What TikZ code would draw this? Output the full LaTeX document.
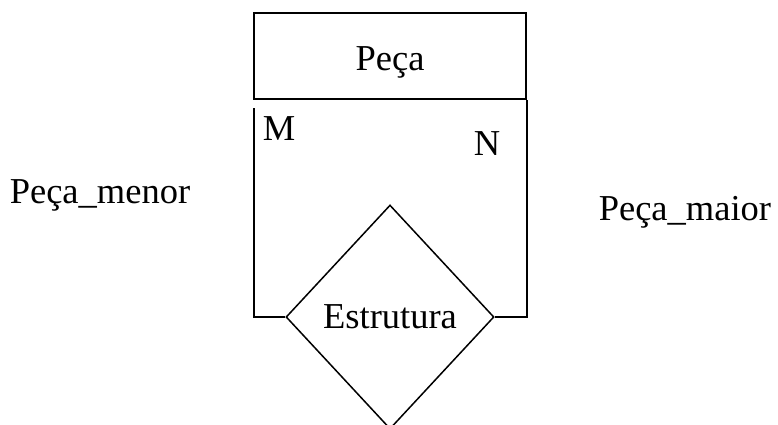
\documentclass[tikz,border=0pt]{standalone}
\usepackage{fontspec}
\setmainfont{Liberation Serif}
\usetikzlibrary{shapes.geometric}
\begin{document}
\begin{tikzpicture}[x=1pt,y=-1pt,line width=1.5pt,
  lbl/.style={inner sep=0pt,font=\fontsize{36.5}{44}\selectfont},
  entbox/.style={draw,rectangle,minimum width=272pt,minimum height=86pt,inner sep=0pt},
  relbox/.style={draw,diamond,minimum width=208pt,minimum height=224pt,inner sep=0pt}]
\useasboundingbox (0,0) rectangle (778,424);
\clip (0,0) rectangle (778,424);
\node[entbox] (ent) at (390,56) {};
\node[lbl,anchor=base] (entlbl) at (390,70) {Peça};
\node[relbox] (rel) at (390,317) {};
\node[lbl,anchor=base] (rellbl) at (390,328) {Estrutura};
\coordinate (mstart) at (254,108);
\draw (mstart) |- (rel.west);
\draw (ent.south east) |- (rel.east);
\node[lbl,anchor=base west] (m) at (262,140) {M};
\node[lbl,anchor=base west] (n) at (473,155) {N};
\node[lbl,anchor=base west] (menor) at (9,203) {Peça\_menor};
\node[lbl,anchor=base west] (maior) at (598,220) {Peça\_maior};
\end{tikzpicture}
\end{document}
